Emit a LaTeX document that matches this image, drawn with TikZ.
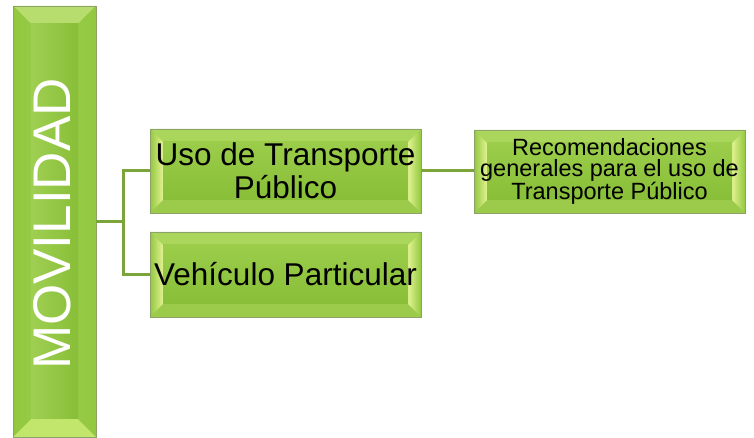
\documentclass[tikz,border=0pt]{standalone}
\usepackage{fontspec}
\setmainfont{Liberation Sans}
\definecolor{boxmid}{HTML}{92C83E}
\definecolor{bevtop}{HTML}{AAD65C}
\definecolor{bevbot}{HTML}{9CCB4C}
\definecolor{bevlight}{HTML}{E2F292}
\definecolor{innertop}{HTML}{9BCD4A}
\definecolor{innerbot}{HTML}{88BE38}
\definecolor{boxline}{HTML}{8CA266}
\definecolor{connline}{HTML}{7BA53A}
\definecolor{Ltop}{HTML}{B6DD6E}
\definecolor{Lbot}{HTML}{C2E56C}
\definecolor{Lside}{HTML}{96CA46}
\definecolor{Lin1}{HTML}{A0CF52}
\definecolor{Lin2}{HTML}{88BE38}
% #1 bevel width, #2 top, #3 bottom, #4 side light, #5 inner style
\newcommand\bevdraw[5]{%
 \fill[#2] (path picture bounding box.north west) -- (path picture bounding box.north east)
   -- ([shift={(-#1,-#1)}]path picture bounding box.north east) -- ([shift={(#1,-#1)}]path picture bounding box.north west) -- cycle;
 \fill[#3] (path picture bounding box.south west) -- (path picture bounding box.south east)
   -- ([shift={(-#1,#1)}]path picture bounding box.south east) -- ([shift={(#1,#1)}]path picture bounding box.south west) -- cycle;
 \shade[left color=boxmid,right color=#4] (path picture bounding box.north west) -- ([shift={(#1,-#1)}]path picture bounding box.north west)
   -- ([shift={(#1,#1)}]path picture bounding box.south west) -- (path picture bounding box.south west) -- cycle;
 \shade[left color=#4,right color=boxmid] (path picture bounding box.north east) -- ([shift={(-#1,-#1)}]path picture bounding box.north east)
   -- ([shift={(-#1,#1)}]path picture bounding box.south east) -- (path picture bounding box.south east) -- cycle;
 \shade[#5] ([shift={(#1,-#1)}]path picture bounding box.north west) rectangle ([shift={(-#1,#1)}]path picture bounding box.south east);
}
\tikzset{
 bevbox/.style={draw=boxline, line width=0.8pt, fill=boxmid, inner sep=0pt, align=center,
   minimum width=271pt, text=black,
   path picture={\bevdraw{13pt}{bevtop}{bevbot}{bevlight}{top color=innertop,bottom color=innerbot}}},
 bigbox/.style={draw=boxline, line width=0.8pt, fill=boxmid, inner sep=0pt,
   minimum width=83pt, minimum height=431pt,
   path picture={\bevdraw{18pt}{Ltop}{Lbot}{Lside}{left color=Lin1,right color=Lin2}}},
 midfont/.style={font=\fontsize{31.5}{33}\selectfont},
 smallfont/.style={font=\fontsize{23.5}{21.5}\selectfont},
 conn/.style={draw=connline, line width=3pt}
}
\begin{document}
\begin{tikzpicture}[x=1pt,y=1pt]
\useasboundingbox (0,0) rectangle (754,438);
\node[bigbox] (L) at (54.5,216.5) {};
\node[rotate=90, text=white, font=\fontsize{53}{60}\selectfont, inner sep=0pt] (Ltext) at (52,214) {MOVILIDAD};
\node[bevbox, midfont, minimum height=84pt] (U) at (285.5,267) {Uso de Transporte\\Público};
\node[bevbox, midfont, minimum height=85pt] (V) at (285.5,163.5) {Vehículo Particular};
\node[bevbox, smallfont, minimum height=83pt] (R) at (609.5,266.5) {Recomendaciones\\generales para el uso de\\Transporte Público};
\coordinate (j) at ([xshift=27pt]L.east);
\draw[conn] (L.east) -- (j);
\draw[conn] (U.west) -| (j) |- (V.west);
\draw[conn] (U.east) -- (U.east -| R.west);
\end{tikzpicture}
\end{document}
